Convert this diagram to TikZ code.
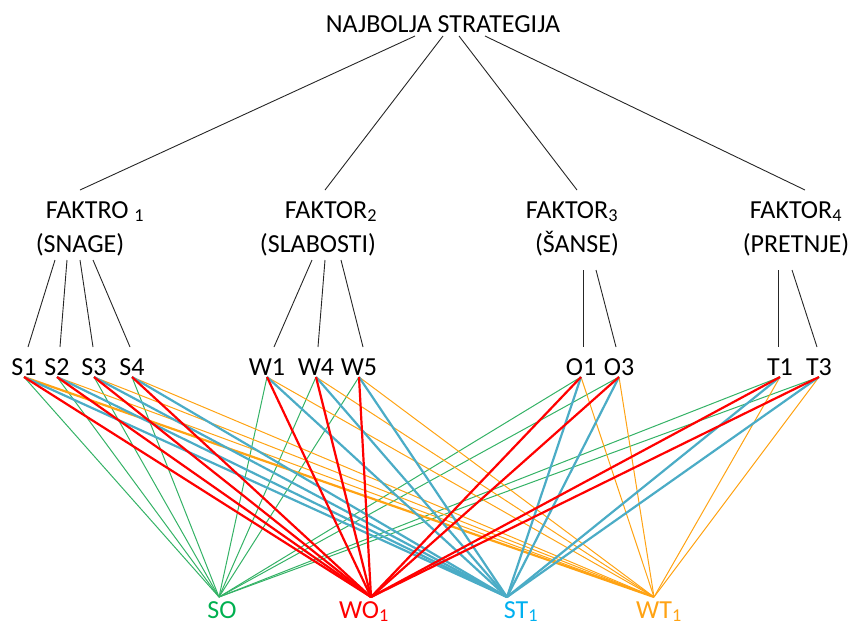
\documentclass[tikz,border=0pt]{standalone}
\usepackage{fontspec}
\setmainfont{Carlito}
\usepackage{xcolor}
\usepackage{tikz}
\usetikzlibrary{calc}
\definecolor{lgreen}{RGB}{52,178,102}
\definecolor{tgreen}{RGB}{0,176,80}
\definecolor{lred}{RGB}{255,0,0}
\definecolor{lblue}{RGB}{75,172,198}
\definecolor{tblue}{RGB}{0,176,240}
\definecolor{lorange}{RGB}{255,163,20}
\tikzset{txt/.style={inner sep=0pt,anchor=base,font=\fontsize{26}{30}\selectfont}}
\tikzset{tree/.style={black!85,line width=0.9pt}}
\tikzset{eso/.style={lgreen,line width=1pt},ewo/.style={lred,line width=2.2pt},
  est/.style={lblue,line width=2.2pt},ewt/.style={lorange,line width=1pt}}

\begin{document}
\begin{tikzpicture}[x=1pt,y=-1pt]
  \useasboundingbox (0,0) rectangle (849,625);

	\node[txt] (top) at (443,32) {NAJBOLJA STRATEGIJA};

	% faktori, dva reda
	\foreach \name/\x/\xs/\a/\b in {f1/95/80/FAKTRO \textsubscript{1}/(SNAGE),
	    f2/331/318/FAKTOR\textsubscript{2}/(SLABOSTI),
	    f3/572/577/FAKTOR\textsubscript{3}/(ŠANSE),
	    f4/796/796/FAKTOR\textsubscript{4}/(PRETNJE)} {
	  \node[txt] (\name) at (\x,218) {\a};
	  \node[txt] (\name s) at (\xs,252) {\b};
	}
	\foreach \dx/\f/\fx in {-28/f1/-15, 0/f2/-6, 16/f3/5, 42/f4/9}
	  \draw[tree] ([xshift=\dx pt,yshift=-4pt]top.base) -- ([xshift=\fx pt,yshift=28pt]\f.base);

	\foreach \name/\x in {S1/24,S2/57,S3/94,S4/132,W1/267,W4/316,W5/359,O1/581,O3/619,T1/780,T3/819}
	  \node[txt] (\name) at (\x,375) {\name};

	\foreach \f/\dx/\dy/\lf/\lx in {f1s/-25/-8/S1/4, f1s/-13/-8/S2/3, f1s/0/-8/S3/-1, f1s/13/-8/S4/-2,
	    f2s/-6/-8/W1/7, f2s/7/-8/W4/2, f2s/23/-8/W5/4,
	    f3s/6/-18/O1/2, f3s/19/-18/O3/-3,
	    f4s/-18/-18/T1/-2, f4s/-4/-18/T3/-2}
	  \draw[tree] ([xshift=\dx pt,yshift=\dy pt]\f.base) -- ([xshift=\lx pt,yshift=28pt]\lf.base);

	\coordinate (pSO) at (219,597);
	\coordinate (pWO) at (371,597);
	\coordinate (pST) at (507,597);
	\coordinate (pWT) at (654,597);
	\node[txt,tgreen] (SO) at (222,618) {SO};
	\node[txt,lred] (WO) at (364,618) {WO\textsubscript{1}};
	\node[txt,tblue] (ST) at (521,618) {ST\textsubscript{1}};
	\node[txt,lorange] (WT) at (659,618) {WT\textsubscript{1}};

	\foreach \lf in {S1,S2,S3,S4,W1,W4,W5,O1,O3,T1,T3}
	  \draw[eso] ([yshift=-2pt]\lf.base) -- (pSO);
	\foreach \lf in {S2,S3,S4,W1,W4,W5,O1,O3,T1,T3}
	  \draw[ewt] ([yshift=-2pt]\lf.base) -- (pWT);
	\draw[ewt,line width=2.2pt] ([yshift=-2pt]S1.base) -- (pWT);
	\foreach \lf in {S1,S2,S3,S4,W1,W4,W5,O1,O3,T1,T3}
	  \draw[est] ([yshift=-2pt]\lf.base) -- (pST);
	\foreach \lf in {S1,S2,S3,S4,W1,W4,W5,O1,O3,T1,T3}
	  \draw[ewo] ([yshift=-2pt]\lf.base) -- (pWO);

\end{tikzpicture}
\end{document}
